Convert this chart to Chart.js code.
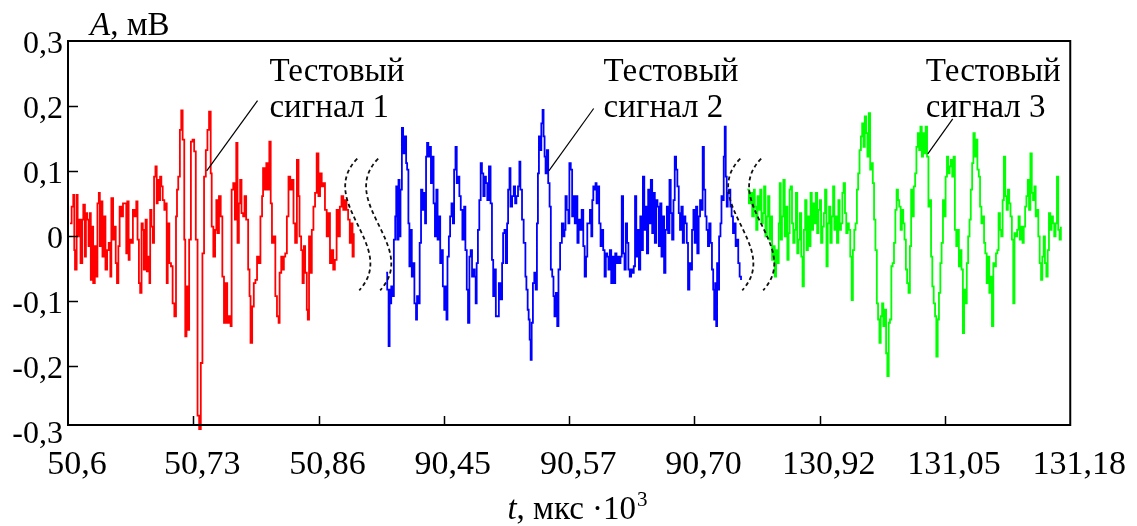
<!DOCTYPE html>
<html>
<head>
<meta charset="utf-8">
<script src="https://cdn.jsdelivr.net/npm/chart.js@4"></script>
<style>
html,body{margin:0;padding:0;background:#fff;}
canvas{display:block;}
</style>
</head>
<body>
<canvas id="c" width="1137" height="526"></canvas>
<script>
// ---- tick labels ----
const xTickLabels = ['50,6','50,73','50,86','90,45','90,57','90,70','130,92','131,05','131,18'];
const yTickValues = [-0.3,-0.2,-0.1,0,0.1,0.2,0.3];
const yTickLabels = ['-0,3','-0,2','-0,1','0','0,1','0,2','0,3'];

// ---- signal 1 (red): time in axis units, amplitude in mV ----
const redTime = [
0.016,0.029,0.042,0.050,0.056,0.069,0.077,0.087,0.100,0.114,
0.122,0.135,0.143,0.153,0.164,0.174,0.182,0.193,0.201,0.214,
0.227,0.235,0.246,0.254,0.267,0.275,0.288,0.299,0.312,0.325,
0.338,0.346,0.360,0.367,0.381,0.391,0.402,0.412,0.426,0.439,
0.452,0.465,0.473,0.484,0.492,0.505,0.518,0.531,0.545,0.555,
0.566,0.576,0.587,0.597,0.605,0.619,0.629,0.640,0.650,0.656,
0.666,0.677,0.687,0.698,0.708,0.716,0.724,0.735,0.745,0.756,
0.769,0.777,0.788,0.796,0.809,0.822,0.835,0.849,0.862,0.870,
0.880,0.893,0.904,0.915,0.928,0.936,0.946,0.957,0.967,0.981,
0.994,1.007,1.020,1.034,1.047,
1.060,1.073,1.086,1.100,1.113,1.126,1.139,1.147,1.160,1.174,
1.184,1.192,1.205,1.219,1.232,1.245,1.258,1.271,1.285,1.298,
1.306,1.319,1.332,1.343,1.353,1.364,1.374,1.385,1.398,1.409,
1.422,1.438,1.449,1.457,1.470,1.483,1.496,1.509,1.523,1.536,
1.549,1.557,1.570,1.583,1.597,1.607,1.618,1.628,1.642,1.655,
1.668,1.681,1.689,1.702,1.713,1.723,1.734,1.747,1.760,1.774,
1.787,1.800,1.813,1.827,1.840,1.848,1.861,1.872,1.882,1.893,
1.906,1.914,1.924,1.935,1.946,1.959,1.972,1.985,1.999,2.012,
2.025,2.038,2.051,2.065,2.078,2.091,2.104,2.117,2.130,2.144,
2.157,2.170,2.183,2.197,2.210,2.223,2.236,2.249,2.263,2.271,2.281];
const redAmp = [
0.019,0.045,0.063,-0.022,-0.052,0.063,-0.001,0.025,-0.042,0.025,
0.048,-0.032,0.035,0.025,-0.016,0.035,-0.068,0.014,-0.073,-0.016,
-0.063,0.050,0.066,-0.016,0.053,-0.032,0.030,-0.052,-0.022,-0.011,
-0.063,0.058,-0.006,0.014,-0.042,-0.073,-0.016,0.045,0.030,0.050,
0.050,-0.027,0.053,-0.037,-0.006,-0.011,0.040,0.030,0.053,-0.006,
-0.073,-0.088,0.019,0.009,-0.052,0.025,-0.055,-0.032,-0.073,0.040,
0.014,-0.011,0.091,0.107,0.050,0.086,0.055,0.091,0.076,0.055,
0.040,0.050,-0.073,0.019,-0.042,-0.047,-0.104,-0.124,0.030,0.071,
0.091,0.163,0.193,0.148,-0.006,-0.155,-0.078,-0.145,-0.006,0.145,
0.148,0.130,-0.006,-0.277,-0.298,
-0.196,-0.027,0.091,0.132,0.163,0.191,0.096,0.014,-0.032,0.009,
0.055,0.004,0.061,0.030,-0.063,-0.134,-0.073,-0.134,-0.124,-0.139,
0.071,0.081,0.025,0.143,-0.011,0.050,0.086,0.035,0.030,0.061,
0.025,-0.052,-0.093,-0.165,-0.109,-0.073,-0.068,-0.032,-0.042,0.030,
0.061,0.104,0.071,0.112,0.071,0.145,0.050,-0.011,-0.001,-0.093,
-0.124,-0.134,-0.057,-0.032,-0.052,-0.032,-0.027,0.030,0.091,0.071,
0.086,0.019,-0.011,0.117,0.061,-0.001,-0.022,-0.073,-0.016,-0.057,
-0.114,-0.129,-0.001,-0.057,0.009,0.045,0.066,0.127,0.061,0.096,
0.076,0.081,0.040,-0.001,0.035,-0.042,-0.022,-0.052,-0.037,0.040,
-0.001,0.045,0.061,0.040,0.055,0.040,0.025,-0.011,0.019,-0.032,0.004];

// ---- signal 2 (blue) ----
const blueTime = [
2.540,2.548,2.559,2.567,2.575,2.580,2.588,2.601,2.612,2.620,
2.628,2.638,2.646,2.654,2.665,2.675,2.686,2.699,2.707,2.717,
2.725,2.733,2.744,2.754,2.765,2.778,2.786,2.797,2.807,2.818,
2.829,2.839,2.850,2.858,2.866,2.876,2.884,2.897,2.908,2.918,
2.929,2.940,2.950,2.958,2.971,2.982,2.992,3.003,3.013,3.021,
3.029,3.040,3.050,3.061,3.072,3.082,3.093,3.103,3.114,3.124,
3.135,3.148,3.162,3.172,3.183,3.193,3.204,3.214,3.225,3.236,
3.246,3.254,3.262,3.272,3.283,3.294,3.304,3.315,3.326,3.336,
3.347,3.360,3.373,3.384,3.394,3.405,3.415,
3.426,3.439,3.452,3.465,3.473,3.484,3.494,3.505,3.513,3.524,
3.532,3.545,3.558,3.569,3.579,3.592,3.603,3.611,3.624,3.637,
3.651,3.659,3.669,3.677,3.685,3.693,3.701,3.711,3.722,3.733,
3.743,3.751,3.759,3.770,3.778,3.788,3.796,3.804,3.812,3.822,
3.833,3.844,3.854,3.865,3.875,3.883,3.894,3.905,3.915,3.928,
3.942,3.955,3.963,3.971,3.981,3.994,4.002,4.013,4.024,4.034,
4.045,4.055,4.066,4.076,4.087,4.100,4.113,4.124,4.135,4.145,
4.156,4.166,4.177,4.185,4.193,4.203,4.211,4.219,4.230,4.240,
4.251,4.261,4.272,4.283,4.293,4.304,4.314,4.325,4.336,4.346,
4.357,4.368,4.378,4.389,4.399,4.410,4.420,4.431,4.442,4.452,
4.463,4.473,4.484,4.495,4.505,4.516,4.526,
4.536,4.547,4.557,4.568,4.578,4.589,4.600,4.610,4.621,4.631,
4.642,4.652,4.663,4.674,4.684,4.695,4.705,4.716,4.727,4.737,
4.748,4.758,4.769,4.780,4.790,4.801,4.811,4.822,4.833,4.843,
4.854,4.864,4.875,4.885,4.896,4.907,4.917,4.928,4.939,4.949,
4.960,4.970,4.981,4.992,5.002,5.013,5.023,5.034,5.045,5.055,
5.066,5.076,5.087,5.097,5.108,5.118,5.129,5.140,5.150,5.158,
5.166,5.174,5.181,5.189,5.197,5.208,5.216,5.224,5.234,5.242,
5.250,5.258,5.266,5.276,5.287,5.297,5.308,5.318,5.329,5.340,
5.350,5.361,5.372];
const blueAmp = [
-0.057,-0.083,-0.170,-0.083,-0.104,-0.078,-0.093,-0.006,0.030,0.076,
-0.006,0.086,-0.001,0.071,0.166,0.127,0.153,0.112,0.102,0.019,
-0.047,0.009,-0.063,-0.042,-0.104,-0.129,-0.093,-0.104,-0.011,0.071,
0.040,0.066,0.019,0.122,0.143,0.122,0.137,0.081,0.122,0.050,
-0.001,0.071,-0.006,0.030,-0.042,-0.022,-0.078,-0.114,-0.078,-0.129,
-0.032,-0.001,0.030,0.050,0.019,0.102,0.137,0.081,0.091,0.061,
0.040,-0.006,0.045,-0.022,-0.083,-0.134,-0.032,-0.022,-0.063,-0.052,
-0.063,-0.104,-0.042,0.009,0.055,0.112,0.096,0.061,0.091,0.081,
0.055,0.107,0.050,-0.037,-0.093,-0.052,-0.124,
-0.124,-0.073,-0.098,-0.042,0.004,0.009,-0.042,0.019,0.071,0.104,
0.045,0.061,0.076,0.050,0.061,0.076,0.114,0.071,0.025,-0.011,
-0.063,-0.083,-0.114,-0.129,-0.160,-0.191,-0.134,-0.073,-0.057,-0.083,
0.019,0.096,0.153,0.132,0.173,0.194,0.153,0.122,0.096,0.132,
0.081,0.045,-0.052,-0.063,-0.093,-0.124,-0.088,-0.139,-0.052,-0.011,
0.019,-0.001,0.009,0.061,0.040,0.019,0.112,0.102,0.030,0.061,
0.019,0.061,-0.011,0.025,0.009,0.040,-0.016,-0.063,-0.032,0.019,
0.019,0.040,-0.001,0.055,0.076,0.071,0.081,0.050,0.076,0.019,
-0.016,0.009,-0.022,-0.063,-0.027,-0.032,-0.052,-0.022,-0.073,-0.032,
-0.073,-0.027,-0.042,-0.032,-0.042,-0.032,0.061,-0.027,-0.052,0.019,
-0.011,-0.052,-0.063,-0.052,-0.057,-0.047,0.061,
-0.032,0.009,-0.052,0.030,-0.022,0.091,0.009,0.045,-0.027,0.071,
0.019,0.086,0.004,0.066,-0.011,0.055,0.045,-0.016,0.050,-0.032,
0.030,-0.057,0.009,0.045,0.004,0.086,0.035,-0.006,0.055,0.122,
0.102,0.076,0.035,0.009,0.045,-0.011,0.030,0.019,-0.011,-0.083,
-0.042,-0.052,0.009,0.040,-0.011,0.045,-0.027,0.030,0.055,0.040,
0.137,0.071,0.030,0.009,-0.016,0.019,-0.011,-0.052,-0.083,-0.129,
-0.073,-0.139,-0.042,-0.083,-0.001,0.019,0.061,0.055,0.122,0.168,
0.091,0.045,0.066,0.071,0.045,0.030,0.004,0.019,-0.016,-0.006,
-0.042,-0.063,-0.068];

// ---- signal 3 (green) ----
const greenTime = [
5.422,5.435,5.448,5.461,5.475,5.482,5.493,5.504,5.514,5.525,
5.535,5.546,5.556,5.567,5.578,5.588,5.599,5.609,5.620,5.631,
5.641,5.652,5.662,5.673,5.681,5.689,5.699,5.710,5.721,5.731,
5.742,5.752,5.760,5.768,5.779,5.789,5.800,5.810,5.821,5.831,
5.842,5.853,5.863,5.874,5.884,5.895,5.906,5.916,5.927,5.937,
5.948,5.958,5.969,5.980,5.990,6.001,6.011,6.022,6.033,6.043,
6.054,6.064,6.075,6.085,6.096,6.107,6.117,6.128,6.138,6.149,
6.159,6.170,6.181,6.191,6.202,6.212,6.223,6.233,6.244,6.255,
6.265,6.276,6.286,6.297,6.307,6.318,6.329,6.339,6.350,6.360,
6.371,6.381,6.392,6.403,6.413,6.424,6.434,6.445,6.456,6.466,
6.477,6.487,6.498,6.508,6.519,6.530,6.540,6.551,6.561,6.572,
6.582,6.593,6.604,6.614,6.625,6.635,6.646,6.656,6.667,
6.677,6.688,6.698,6.709,6.720,6.730,6.741,6.751,6.762,6.772,
6.783,6.794,6.804,6.815,6.825,6.836,6.846,6.857,6.868,6.878,
6.889,6.899,6.910,6.921,6.931,6.942,6.952,6.963,6.973,6.984,
6.995,7.005,7.016,7.026,7.037,7.047,7.058,7.069,7.079,7.090,
7.100,7.111,7.121,7.132,7.143,7.153,7.164,7.174,7.185,7.196,
7.206,7.217,7.227,7.238,7.248,7.259,7.270,7.280,7.291,7.301,
7.312,7.322,7.333,7.344,7.354,7.365,7.375,7.386,7.396,7.407,
7.418,7.428,7.439,7.449,7.460,7.470,7.481,7.492,7.502,7.513,
7.523,7.534,7.545,7.555,7.566,7.576,7.587,7.597,7.608,7.619,
7.629,7.640,7.650,7.661,7.671,7.682,7.693,7.703,7.714,7.724,
7.735,7.745,7.756,7.767,7.777,7.788,7.798,7.809,7.820,7.830,
7.841,7.851,7.862,7.872,7.883,7.894,7.904,7.915,7.925];
const greenAmp = [
0.071,0.050,0.066,0.030,0.071,0.045,0.009,0.061,0.040,0.071,
0.019,0.035,0.076,-0.001,0.030,0.061,-0.006,0.030,-0.037,-0.016,
-0.063,-0.022,-0.042,0.019,0.081,-0.006,0.030,0.086,-0.001,0.045,
-0.037,0.004,0.071,0.076,0.019,-0.011,0.009,0.066,-0.027,-0.006,
0.035,-0.032,-0.078,0.009,0.055,-0.022,0.030,-0.016,0.066,0.009,
0.050,0.019,0.066,0.004,0.040,0.055,-0.011,0.014,0.035,0.071,
-0.047,0.019,0.045,-0.011,0.030,0.076,0.009,0.030,-0.011,0.055,
0.009,0.019,0.066,0.081,0.035,0.004,0.019,0.009,-0.032,-0.099,
-0.022,0.009,0.019,0.071,0.096,0.132,0.153,0.173,0.137,0.184,
0.158,0.122,0.189,0.102,0.112,0.081,0.025,-0.022,-0.104,-0.129,
-0.165,-0.124,-0.104,-0.139,-0.114,-0.181,-0.216,-0.134,-0.129,-0.047,
-0.042,-0.011,0.040,0.071,0.055,0.045,0.009,0.040,0.019,
-0.006,-0.052,-0.073,-0.088,-0.016,0.071,0.030,0.076,0.096,0.137,
0.158,0.132,0.168,0.122,0.158,0.127,0.168,0.122,0.045,0.055,
-0.032,-0.078,-0.104,-0.124,-0.186,-0.129,-0.088,-0.042,-0.011,0.055,
0.030,0.091,0.122,0.096,0.107,0.117,0.091,0.122,0.009,-0.016,
0.009,-0.047,-0.022,-0.052,-0.150,-0.083,-0.104,-0.042,-0.001,0.025,
0.071,0.112,0.158,0.122,0.148,0.102,0.091,0.045,0.019,0.030,
-0.011,-0.027,-0.073,-0.032,-0.088,-0.063,-0.139,-0.042,-0.047,-0.027,
-0.022,0.035,0.009,-0.001,0.055,0.122,0.061,0.040,0.071,0.050,
0.030,-0.006,-0.104,0.004,-0.001,0.009,0.030,-0.006,0.014,-0.011,
0.014,0.045,0.061,0.086,0.040,0.127,0.066,0.055,0.076,0.030,
0.040,-0.001,-0.042,-0.068,-0.032,-0.001,-0.042,-0.063,-0.022,0.035,
0.009,0.030,0.019,-0.001,0.019,0.091,0.009,-0.006,0.014];

// ---- annotations ----
const noteLines = [['Тестовый','сигнал 1'],['Тестовый','сигнал 2'],['Тестовый','сигнал 3']];

const FONT = '"Liberation Serif"';

const decor = {
  textLeft: [1.608, 4.275, 6.847],
  textBaseline: 0.2386,
  lineGap: 36,
  leaders: [[1.513,0.208,1.107,0.100],[4.196,0.196,3.838,0.100],[7.062,0.180,6.863,0.126]],
  breaks: [2.309, 2.476, 5.366, 5.533],
  breakTop: 0.119,
  breakBottom: -0.084
};

function toPts(t, a){ return t.map((v,i)=>({x:v, y:a[i]})); }

const decorPlugin = {
  id: 'decor',
  afterDatasetsDraw(chart){
    const {ctx, chartArea:a, scales:{x, y}} = chart;
    ctx.save();
    // break marks
    ctx.strokeStyle = '#111';
    ctx.lineWidth = 1.8;
    ctx.setLineDash([4,3]);
    const yt = y.getPixelForValue(decor.breakTop), yb = y.getPixelForValue(decor.breakBottom);
    const h = yb - yt;
    decor.breaks.forEach(t => {
      const x0 = x.getPixelForValue(t);
      ctx.beginPath();
      ctx.moveTo(x0, yt);
      ctx.bezierCurveTo(x0-42, yt+h/3, x0+42, yt+2*h/3, x0+2, yb);
      ctx.stroke();
    });
    ctx.setLineDash([]);
    // leader lines
    ctx.strokeStyle = '#000';
    ctx.lineWidth = 1.2;
    decor.leaders.forEach(l => {
      ctx.beginPath();
      ctx.moveTo(x.getPixelForValue(l[0]), y.getPixelForValue(l[1]));
      ctx.lineTo(x.getPixelForValue(l[2]), y.getPixelForValue(l[3]));
      ctx.stroke();
    });
    // annotation text
    ctx.fillStyle = '#000';
    ctx.font = '33px ' + FONT;
    ctx.textAlign = 'left';
    ctx.textBaseline = 'alphabetic';
    noteLines.forEach((lines, i) => {
      const px = x.getPixelForValue(decor.textLeft[i]);
      const py = y.getPixelForValue(decor.textBaseline);
      lines.forEach((s, j) => ctx.fillText(s, px, py + j*decor.lineGap));
    });
    // frame
    ctx.lineWidth = 2;
    ctx.strokeRect(a.left, a.top, a.right-a.left, a.bottom-a.top);
    // inward ticks
    ctx.lineWidth = 1.5;
    ctx.beginPath();
    yTickValues.forEach(v => {
      if (v > -0.29 && v < 0.29) {
        const py = Math.round(y.getPixelForValue(v)) + 0.5;
        ctx.moveTo(a.left, py); ctx.lineTo(a.left + 10, py);
      }
    });
    xTickLabels.forEach((l, i) => {
      if (i > 0 && i < xTickLabels.length - 1) {
        const px = Math.round(x.getPixelForValue(i)) + 0.5;
        ctx.moveTo(px, a.bottom); ctx.lineTo(px, a.bottom - 9);
      }
    });
    ctx.stroke();
    // axis titles
    ctx.textBaseline = 'alphabetic';
    ctx.font = 'italic 33px ' + FONT;
    ctx.fillText('A', 90, 35);
    let w = ctx.measureText('A').width;
    ctx.font = '33px ' + FONT;
    ctx.fillText(', мВ', 90 + w, 35);
    // x title
    ctx.font = 'italic 33px ' + FONT;
    const w1 = ctx.measureText('t').width;
    ctx.font = '33px ' + FONT;
    const w2 = ctx.measureText(', мкс ·10').width;
    ctx.font = '21px ' + FONT;
    const w3 = ctx.measureText('3').width;
    let sx = 577 - (w1 + w2 + w3)/2;
    const by = 519;
    ctx.font = 'italic 33px ' + FONT;
    ctx.fillText('t', sx, by);
    ctx.font = '33px ' + FONT;
    ctx.fillText(', мкс ·10', sx + w1, by);
    ctx.font = '21px ' + FONT;
    ctx.fillText('3', sx + w1 + w2 + 1, by - 13);
    ctx.restore();
  }
};

const lineDs = (label, t, a, color) => ({
  label, data: toPts(t, a), borderColor: color, backgroundColor: color,
  borderWidth: 1.8, pointRadius: 0, stepped: true, fill: false, clip: false
});

Chart.defaults.font.family = FONT;

new Chart(document.getElementById('c'), {
  type: 'line',
  data: {
    datasets: [
      lineDs('Тестовый сигнал 1', redTime, redAmp, '#ff0000'),
      lineDs('Тестовый сигнал 2', blueTime, blueAmp, '#0000ff'),
      lineDs('Тестовый сигнал 3', greenTime, greenAmp, '#00ff00')
    ]
  },
  options: {
    responsive: false,
    animation: false,
    devicePixelRatio: 1,
    layout: { padding: { top: 41, right: 64, left: 0, bottom: 0 } },
    plugins: { legend: { display: false }, tooltip: { enabled: false } },
    scales: {
      x: {
        type: 'linear', min: 0, max: 8,
        grid: { display: false, drawTicks: false },
        border: { display: false },
        afterBuildTicks: ax => { ax.ticks = xTickLabels.map((l, i) => ({ value: i })); },
        afterFit: s => { s.height = 101; },
        ticks: {
          autoSkip: false, maxRotation: 0, minRotation: 0,
          padding: 20, labelOffset: 9, color: '#000',
          font: { family: FONT, size: 34 },
          callback: (v, i) => xTickLabels[i]
        }
      },
      y: {
        type: 'linear', min: -0.2915, max: 0.3,
        grid: { display: false, drawTicks: false },
        border: { display: false },
        afterBuildTicks: ax => { ax.ticks = yTickValues.map(v => ({ value: v })); },
        afterFit: s => { s.width = 68; },
        ticks: {
          autoSkip: false, padding: 5, labelOffset: 4, color: '#000',
          font: { family: FONT, size: 32 },
          callback: (v, i) => yTickLabels[i]
        }
      }
    }
  },
  plugins: [decorPlugin]
});
</script>
</body>
</html>
